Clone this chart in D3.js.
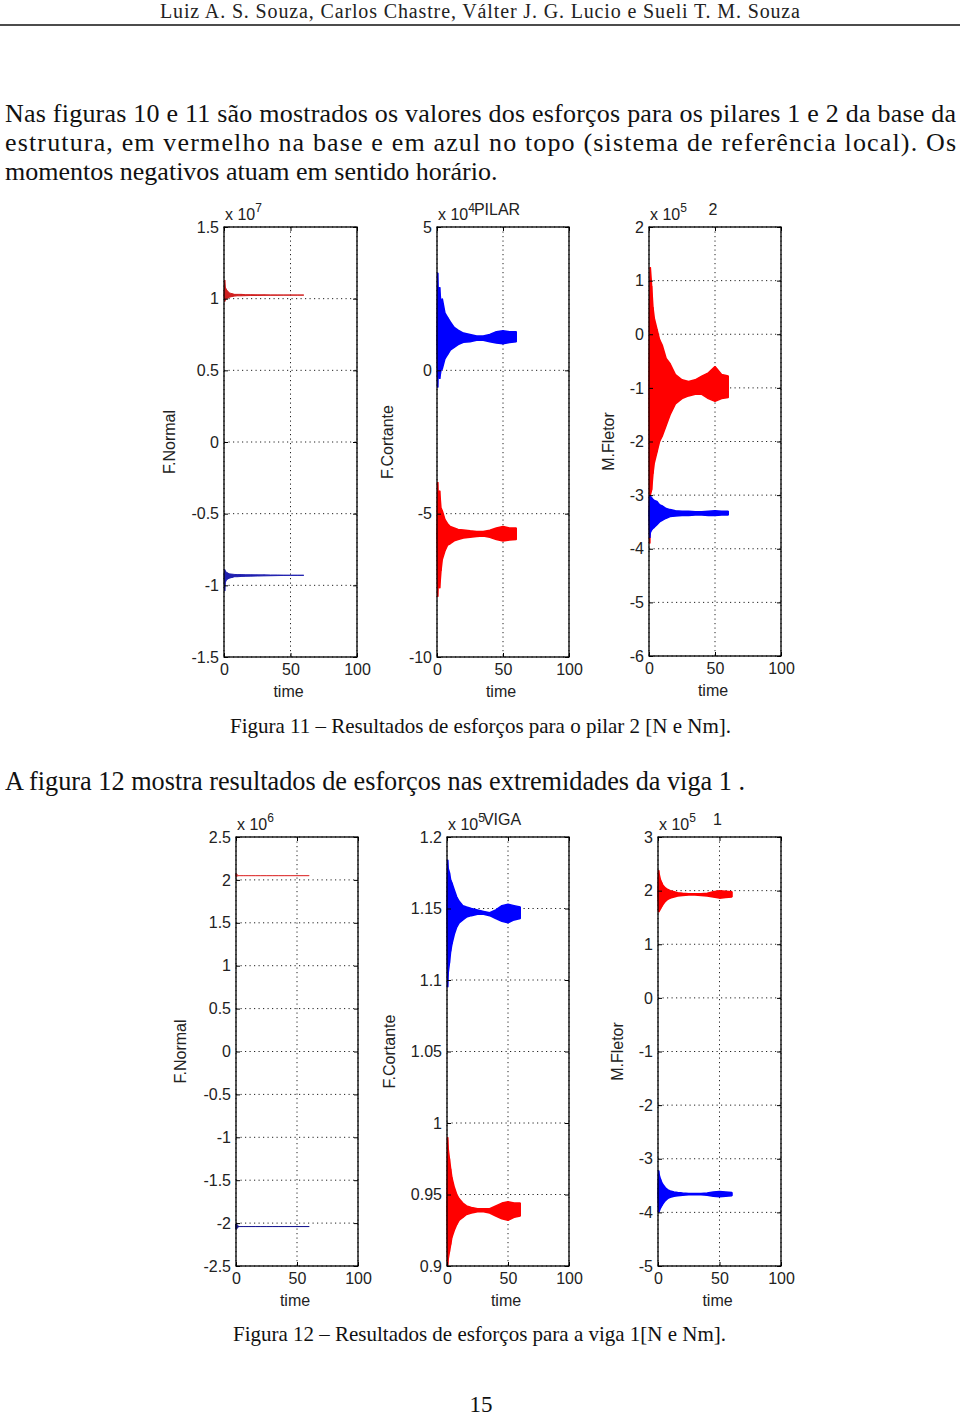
<!DOCTYPE html>
<html>
<head>
<meta charset="utf-8">
<script src="https://cdn.jsdelivr.net/npm/d3@7"></script>
<style>
  body { margin: 0; background: #fff; }
  svg { display: block; }
</style>
</head>
<body>
<div id="page"></div>
<script>
// sample times (s) at which the envelope of each response was read
const timeSteps = [0, 0.5, 1, 2, 3, 4, 6, 8, 10, 13, 16, 20, 25, 30, 35, 40, 45, 50, 55, 60];
const xTicks = [0, 50, 100];

// Figura 11 - pilar 2 (red = base, blue = topo)
const pilarNormalTicks = [-1.5, -1, -0.5, 0, 0.5, 1, 1.5];
const pilarNormalBaseHi = [1.02, 1.13, 1.08, 1.06, 1.05, 1.04, 1.035, 1.03, 1.03, 1.03, 1.028, 1.028, 1.027, 1.027, 1.026, 1.026, 1.025, 1.025, 1.025, 1.025];
const pilarNormalBaseLo = [1.02, 0.98, 0.99, 1.0, 1.005, 1.01, 1.015, 1.018, 1.02, 1.02, 1.021, 1.022, 1.022, 1.023, 1.024, 1.024, 1.025, 1.025, 1.025, 1.025];
const pilarNormalTopoHi = [-0.93, -0.89, -0.9, -0.91, -0.915, -0.92, -0.922, -0.924, -0.925, -0.925, -0.926, -0.926, -0.927, -0.927, -0.928, -0.928, -0.929, -0.93, -0.93, -0.93];
const pilarNormalTopoLo = [-0.93, -1.04, -0.98, -0.96, -0.955, -0.95, -0.945, -0.94, -0.94, -0.938, -0.937, -0.936, -0.935, -0.934, -0.933, -0.932, -0.931, -0.93, -0.93, -0.93];

const pilarCortanteTicks = [-10, -5, 0, 5];
const pilarCortanteTopoHi = [1.1, 3.4, 2.6, 2.9, 2.3, 2.5, 2.0, 1.85, 1.7, 1.5, 1.4, 1.3, 1.25, 1.2, 1.2, 1.25, 1.35, 1.38, 1.35, 1.35];
const pilarCortanteTopoLo = [1.1, -0.6, 0.2, -0.3, 0.0, 0.05, 0.4, 0.55, 0.7, 0.8, 0.9, 0.98, 1.0, 1.05, 1.05, 1.0, 0.95, 0.93, 0.97, 1.0];
const pilarCortanteBaseHi = [-5.7, -3.9, -4.5, -4.2, -4.8, -4.9, -5.2, -5.35, -5.45, -5.5, -5.55, -5.57, -5.6, -5.62, -5.62, -5.58, -5.5, -5.45, -5.5, -5.5];
const pilarCortanteBaseLo = [-5.7, -7.9, -7.3, -7.6, -7.0, -6.6, -6.3, -6.1, -6.05, -5.95, -5.9, -5.85, -5.82, -5.8, -5.78, -5.82, -5.9, -5.95, -5.92, -5.9];

const pilarFletorTicks = [-6, -5, -4, -3, -2, -1, 0, 1, 2];
const pilarFletorBaseHi = [-1.0, 0.6, 1.25, 0.9, 0.5, 0.3, 0.1, -0.1, -0.2, -0.45, -0.55, -0.75, -0.85, -0.88, -0.85, -0.78, -0.72, -0.6, -0.75, -0.78];
const pilarFletorBaseLo = [-1.0, -3.9, -3.0, -2.9, -2.6, -2.4, -2.2, -2.0, -1.9, -1.7, -1.5, -1.3, -1.2, -1.15, -1.12, -1.12, -1.2, -1.25, -1.2, -1.18];
const pilarFletorTopoHi = [-3.34, -3.0, -3.02, -3.05, -3.08, -3.1, -3.12, -3.18, -3.2, -3.25, -3.27, -3.29, -3.3, -3.3, -3.31, -3.31, -3.3, -3.29, -3.3, -3.3];
const pilarFletorTopoLo = [-3.34, -3.8, -3.7, -3.65, -3.62, -3.6, -3.55, -3.5, -3.47, -3.43, -3.4, -3.39, -3.38, -3.38, -3.37, -3.37, -3.38, -3.38, -3.37, -3.37];

// Figura 12 - viga 1
const vigaNormalTicks = [-2.5, -2, -1.5, -1, -0.5, 0, 0.5, 1, 1.5, 2, 2.5];
const vigaNormalBaseHi = [2.07, 2.07, 2.055, 2.052, 2.05, 2.05, 2.05, 2.05, 2.05, 2.05, 2.05, 2.05, 2.05, 2.05, 2.05, 2.05, 2.05, 2.05, 2.05, 2.05];
const vigaNormalBaseLo = [2.04, 2.04, 2.045, 2.048, 2.05, 2.05, 2.05, 2.05, 2.05, 2.05, 2.05, 2.05, 2.05, 2.05, 2.05, 2.05, 2.05, 2.05, 2.05, 2.05];
const vigaNormalTopoHi = [-2.01, -2.01, -2.03, -2.035, -2.04, -2.04, -2.04, -2.04, -2.04, -2.04, -2.04, -2.04, -2.04, -2.04, -2.04, -2.04, -2.04, -2.04, -2.04, -2.04];
const vigaNormalTopoLo = [-2.07, -2.07, -2.05, -2.045, -2.04, -2.04, -2.04, -2.04, -2.04, -2.04, -2.04, -2.04, -2.04, -2.04, -2.04, -2.04, -2.04, -2.04, -2.04, -2.04];

const vigaCortanteTicks = [0.9, 0.95, 1, 1.05, 1.1, 1.15, 1.2];
const vigaCortanteTopoHi = [1.148, 1.184, 1.178, 1.175, 1.17, 1.168, 1.163, 1.158, 1.155, 1.152, 1.151, 1.15, 1.149, 1.148, 1.147, 1.149, 1.152, 1.153, 1.152, 1.151];
const vigaCortanteTopoLo = [1.148, 1.095, 1.105, 1.112, 1.12, 1.125, 1.132, 1.137, 1.14, 1.142, 1.144, 1.145, 1.146, 1.146, 1.145, 1.143, 1.141, 1.14, 1.142, 1.143];
const vigaCortanteBaseHi = [0.939, 0.99, 0.982, 0.975, 0.968, 0.962, 0.955, 0.95, 0.947, 0.944, 0.942, 0.941, 0.94, 0.94, 0.94, 0.942, 0.944, 0.945, 0.944, 0.944];
const vigaCortanteBaseLo = [0.939, 0.9, 0.905, 0.91, 0.915, 0.92, 0.925, 0.929, 0.932, 0.934, 0.936, 0.937, 0.938, 0.938, 0.937, 0.935, 0.933, 0.932, 0.934, 0.935];

const vigaFletorTicks = [-5, -4, -3, -2, -1, 0, 1, 2, 3];
const vigaFletorBaseHi = [1.93, 2.38, 2.3, 2.2, 2.15, 2.1, 2.05, 2.02, 2.0, 1.98, 1.96, 1.95, 1.94, 1.94, 1.94, 1.95, 1.98, 2.0, 1.99, 1.98];
const vigaFletorBaseLo = [1.93, 1.6, 1.62, 1.66, 1.7, 1.74, 1.8, 1.84, 1.86, 1.88, 1.9, 1.91, 1.92, 1.92, 1.91, 1.9, 1.88, 1.86, 1.87, 1.88];
const vigaFletorTopoHi = [-3.66, -3.22, -3.3, -3.38, -3.44, -3.48, -3.54, -3.58, -3.6, -3.62, -3.63, -3.64, -3.65, -3.65, -3.65, -3.64, -3.62, -3.61, -3.62, -3.63];
const vigaFletorTopoLo = [-3.66, -4.0, -3.98, -3.92, -3.88, -3.84, -3.78, -3.74, -3.72, -3.7, -3.69, -3.68, -3.67, -3.67, -3.67, -3.68, -3.7, -3.71, -3.7, -3.69];

const W = 960, H = 1416;
const serif = '"Liberation Serif", "Times New Roman", serif';
const sans = '"Liberation Sans", Arial, sans-serif';

const svg = d3.select('#page').append('svg').attr('width', W).attr('height', H);

// ---- page text ----
svg.append('text').text('Luiz A. S. Souza, Carlos Chastre, Válter J. G. Lucio e Sueli T. M. Souza')
   .attr('x', 160).attr('y', 18).attr('textLength', 640).attr('lengthAdjust', 'spacing')
   .style('font-family', serif).style('font-size', '20px').attr('fill', '#222');
svg.append('line').attr('x1', 0).attr('x2', W).attr('y1', 25).attr('y2', 25).attr('stroke', '#111').attr('stroke-width', 1.5);

const para = [
  {t: 'Nas figuras 10 e 11 são mostrados os valores dos esforços para os pilares 1 e 2 da base da', y: 122, len: 951},
  {t: 'estrutura, em vermelho na base e em azul no topo (sistema de referência local). Os', y: 151, len: 951},
  {t: 'momentos negativos atuam em sentido horário.', y: 180, len: null}
];
para.forEach(p => {
  const t = svg.append('text').text(p.t).attr('x', 5).attr('y', p.y)
     .style('font-family', serif).style('font-size', '26px').attr('fill', '#111');
  if (p.len) t.attr('textLength', p.len).attr('lengthAdjust', 'spacing');
});

svg.append('text').text('Figura 11 – Resultados de esforços para o pilar 2 [N e Nm].')
   .attr('x', 230).attr('y', 733).attr('textLength', 501).attr('lengthAdjust', 'spacingAndGlyphs')
   .style('font-family', serif).style('font-size', '21px').attr('fill', '#111');
svg.append('text').text('A figura 12 mostra resultados de esforços nas extremidades da viga 1 .')
   .attr('x', 5).attr('y', 790).attr('textLength', 740).attr('lengthAdjust', 'spacingAndGlyphs')
   .style('font-family', serif).style('font-size', '27px').attr('fill', '#111');
svg.append('text').text('Figura 12 – Resultados de esforços para a viga 1[N e Nm].')
   .attr('x', 233).attr('y', 1341).attr('textLength', 493).attr('lengthAdjust', 'spacingAndGlyphs')
   .style('font-family', serif).style('font-size', '21px').attr('fill', '#111');
svg.append('text').text('15').attr('x', 481).attr('y', 1412).attr('text-anchor', 'middle')
   .style('font-family', serif).style('font-size', '23px').attr('fill', '#111');

// ---- panels ----
const RED = '#ff0000', BLUE = '#0000ff';
const panels = [
  {x0: 224, x1: 357, y0: 227, y1: 657, ticks: pilarNormalTicks, exp: '7', title: '', ylab: 'F.Normal', ylx: 170,
   series: [{hi: pilarNormalBaseHi, lo: pilarNormalBaseLo, c: '#d02020', w: 1}, {hi: pilarNormalTopoHi, lo: pilarNormalTopoLo, c: '#2020b0', w: 1}]},
  {x0: 437, x1: 569, y0: 227, y1: 657, ticks: pilarCortanteTicks, exp: '4', title: 'PILAR', ylab: 'F.Cortante', ylx: 388,
   series: [{hi: pilarCortanteTopoHi, lo: pilarCortanteTopoLo, c: BLUE, w: 1.5}, {hi: pilarCortanteBaseHi, lo: pilarCortanteBaseLo, c: RED, w: 1.5}]},
  {x0: 649, x1: 781, y0: 227, y1: 656, ticks: pilarFletorTicks, exp: '5', title: '2', ylab: 'M.Fletor', ylx: 609,
   series: [{hi: pilarFletorBaseHi, lo: pilarFletorBaseLo, c: RED, w: 1.5}, {hi: pilarFletorTopoHi, lo: pilarFletorTopoLo, c: BLUE, w: 1.5}]},
  {x0: 236, x1: 358, y0: 837, y1: 1266, ticks: vigaNormalTicks, exp: '6', title: '', ylab: 'F.Normal', ylx: 181,
   series: [{hi: vigaNormalBaseHi, lo: vigaNormalBaseLo, c: '#e04040', w: 1}, {hi: vigaNormalTopoHi, lo: vigaNormalTopoLo, c: '#1a1a90', w: 1}]},
  {x0: 447, x1: 569, y0: 837, y1: 1266, ticks: vigaCortanteTicks, exp: '5', title: 'VIGA', ylab: 'F.Cortante', ylx: 390,
   series: [{hi: vigaCortanteTopoHi, lo: vigaCortanteTopoLo, c: BLUE, w: 1.5}, {hi: vigaCortanteBaseHi, lo: vigaCortanteBaseLo, c: RED, w: 1.5}]},
  {x0: 658, x1: 781, y0: 837, y1: 1266, ticks: vigaFletorTicks, exp: '5', title: '1', ylab: 'M.Fletor', ylx: 618,
   series: [{hi: vigaFletorBaseHi, lo: vigaFletorBaseLo, c: RED, w: 1.5}, {hi: vigaFletorTopoHi, lo: vigaFletorTopoLo, c: BLUE, w: 1.5}]}
];

const fmt = d => String(+d.toFixed(4));

panels.forEach(p => {
  const x = d3.scaleLinear().domain([0, 100]).range([p.x0, p.x1]);
  const y = d3.scaleLinear().domain(d3.extent(p.ticks)).range([p.y1, p.y0]);
  const g = svg.append('g');

  // dotted grid
  g.selectAll('.gy').data(p.ticks).join('line')
   .attr('x1', p.x0).attr('x2', p.x1).attr('y1', d => y(d)).attr('y2', d => y(d))
   .attr('stroke', '#222').attr('stroke-width', 1).attr('stroke-dasharray', '1.2,3.3');
  g.selectAll('.gx').data(xTicks).join('line')
   .attr('x1', d => x(d)).attr('x2', d => x(d)).attr('y1', p.y0).attr('y2', p.y1)
   .attr('stroke', '#222').attr('stroke-width', 1).attr('stroke-dasharray', '1.2,3.3');

  // response envelopes
  p.series.forEach(s => {
    const pts = timeSteps.map((t, i) => ({t, hi: s.hi[i], lo: s.lo[i]}));
    const area = d3.area().x(d => x(d.t)).y0(d => y(d.lo)).y1(d => y(d.hi));
    g.append('path').datum(pts).attr('d', area)
     .attr('fill', s.c).attr('stroke', s.c).attr('stroke-width', s.w).attr('stroke-linejoin', 'bevel');
    g.selectAll(null).data(pts).join('line')
     .attr('x1', d => x(d.t)).attr('x2', d => x(d.t)).attr('y1', d => y(d.lo)).attr('y2', d => y(d.hi))
     .attr('stroke', s.c).attr('stroke-width', 1.4);
  });

  // axes (inward ticks on all four sides)
  const styleAxis = a => {
    a.select('.domain').remove();
    a.selectAll('line').attr('stroke', '#000');
    a.selectAll('text').style('font-family', sans).style('font-size', '16px').attr('fill', '#222');
  };
  g.append('g').attr('transform', `translate(${p.x0},0)`)
   .call(d3.axisLeft(y).tickValues(p.ticks).tickFormat(fmt).tickSizeInner(-4).tickSizeOuter(0).tickPadding(5))
   .call(styleAxis);
  g.append('g').attr('transform', `translate(${p.x1},0)`)
   .call(d3.axisRight(y).tickValues(p.ticks).tickFormat('').tickSizeInner(-4).tickSizeOuter(0))
   .call(styleAxis);
  g.append('g').attr('transform', `translate(0,${p.y1})`)
   .call(d3.axisBottom(x).tickValues(xTicks).tickFormat(d3.format('d')).tickSizeInner(-4).tickSizeOuter(0).tickPadding(7))
   .call(styleAxis);
  g.append('g').attr('transform', `translate(0,${p.y0})`)
   .call(d3.axisTop(x).tickValues(xTicks).tickFormat('').tickSizeInner(-4).tickSizeOuter(0))
   .call(styleAxis);

  // box
  g.append('rect').attr('x', p.x0).attr('y', p.y0).attr('width', p.x1 - p.x0).attr('height', p.y1 - p.y0)
   .attr('fill', 'none').attr('stroke', '#000').attr('stroke-width', 1.3);

  // exponent label
  const ex = g.append('text').attr('x', p.x0 + 1).attr('y', p.y0 - 7)
   .style('font-family', sans).style('font-size', '16px').attr('fill', '#222');
  ex.append('tspan').text('x 10');
  ex.append('tspan').text(p.exp).attr('dy', -8).style('font-size', '12px');

  if (p.title) {
    g.append('text').text(p.title).attr('x', (p.x0 + p.x1) / 2 + (p.title.length > 1 ? -6 : -2)).attr('y', p.y0 - 12)
     .attr('text-anchor', 'middle').style('font-family', sans).style('font-size', '16px').attr('fill', '#222');
  }

  g.append('text').text(p.ylab)
   .attr('transform', `translate(${p.ylx + 5},${(p.y0 + p.y1) / 2}) rotate(-90)`)
   .attr('text-anchor', 'middle').style('font-family', sans).style('font-size', '16px').attr('fill', '#222');

  g.append('text').text('time').attr('x', (p.x0 + p.x1) / 2 - 2).attr('y', p.y1 + 40)
   .attr('text-anchor', 'middle').style('font-family', sans).style('font-size', '16px').attr('fill', '#222');
});
</script>
</body>
</html>
